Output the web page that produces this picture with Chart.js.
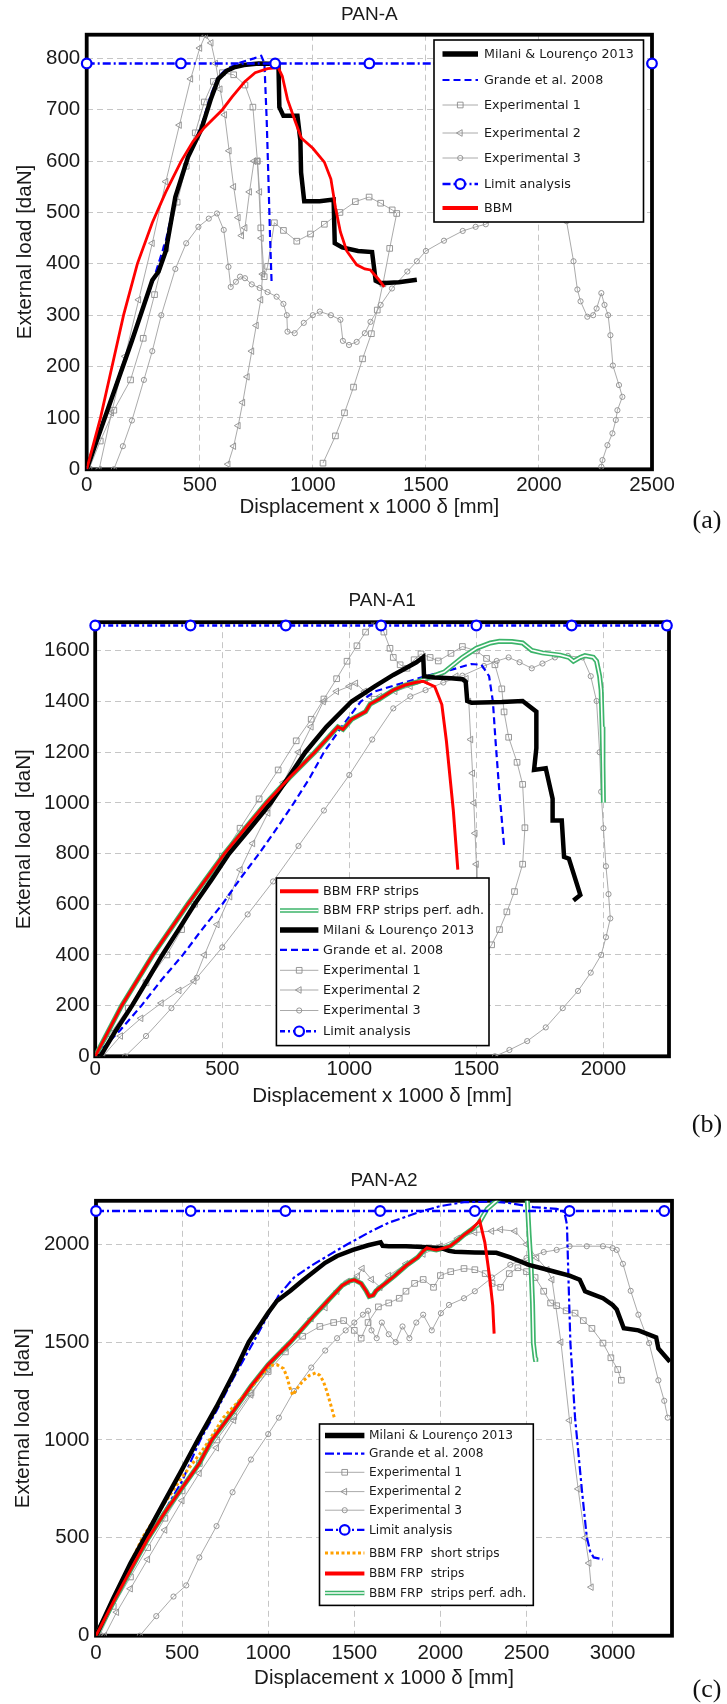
<!DOCTYPE html>
<html><head><meta charset="utf-8">
<script src="https://cdn.jsdelivr.net/npm/chart.js@4.4.0/dist/chart.umd.min.js"></script>
<style>
html,body{margin:0;padding:0;background:#fff;}
#wrap{position:relative;width:727px;height:1704px;overflow:hidden;background:#fff;}
canvas{position:absolute;left:0;}
.tag{position:absolute;width:44px;text-align:center;font-family:'Liberation Serif','Times New Roman',serif;font-size:26px;line-height:30px;color:#111;}
</style></head><body><div id="wrap">
<canvas id="c1" width="727" height="540" style="top:0px"></canvas>
<canvas id="c2" width="727" height="580" style="top:540px"></canvas>
<canvas id="c3" width="727" height="584" style="top:1120px"></canvas>
<div class="tag" style="left:685px;top:505px">(a)</div>
<div class="tag" style="left:685px;top:1109px">(b)</div>
<div class="tag" style="left:685px;top:1674px">(c)</div>
</div>
<script>
// ================= DATA : PAN-A =================
const panA_xTicks = [0, 500, 1000, 1500, 2000, 2500];
const panA_yTicks = [0, 100, 200, 300, 400, 500, 600, 700, 800];
const panA_milani = [[0,0],[100,125],[200,250],[290,368],[318,385],[350,425],[392,530],[448,608],[507,662],[550,722],[582,760],[620,776],[656,783],[695,787],[760,790],[848,789],[852,705],[870,688],[932,688],[945,640],[948,578],[962,522],[1030,522],[1092,525],[1097,440],[1130,432],[1200,425],[1262,423],[1278,367],[1300,362],[1380,364],[1460,369]];
const panA_grande = [[0,0],[100,128],[200,255],[290,362],[350,445],[392,528],[448,606],[507,668],[550,730],[582,764],[620,780],[680,792],[740,800],[772,805],[786,790],[796,680],[804,560],[811,450],[818,360]];
const panA_exp1 = [[10,0],[60,55],[120,115],[194,174],[250,255],[300,340],[350,430],[400,520],[440,590],[480,655],[520,715],[560,755],[600,772],[650,768],[700,748],[735,705],[755,600],[770,470],[785,375],[800,395],[830,480],[870,465],[929,444],[990,458],[1051,477],[1120,500],[1188,521],[1249,530],[1300,518],[1351,505],[1371,498],[1340,430],[1310,361],[1285,310],[1259,264],[1220,215],[1180,160],[1140,110],[1100,65],[1045,12]];
const panA_exp2 = [[55,0],[110,110],[170,220],[230,330],[290,440],[350,560],[410,670],[460,760],[500,820],[525,845],[550,830],[570,790],[590,740],[610,690],[630,620],[650,550],[670,490],[685,455],[700,470],[720,540],[740,600],[755,600],[765,540],[772,450],[778,380],[770,330],[750,280],[730,230],[710,180],[690,130],[670,85],[650,45],[625,10]];
const panA_exp3 = [[120,0],[160,45],[200,95],[253,174],[290,230],[330,300],[392,390],[440,440],[494,472],[540,488],[576,498],[606,466],[627,394],[637,355],[660,365],[678,375],[700,372],[730,360],[765,353],[800,345],[840,336],[870,322],[885,300],[888,268],[920,265],[960,285],[1000,300],[1031,307],[1080,300],[1122,291],[1133,250],[1160,242],[1194,248],[1230,265],[1255,287],[1300,320],[1350,352],[1418,385],[1460,405],[1500,425],[1580,445],[1663,464],[1720,472],[1765,477],[1830,498],[1900,518],[1980,535],[2040,530],[2090,510],[2122,483],[2153,405],[2170,350],[2184,327],[2214,297],[2240,300],[2255,313],[2276,343],[2290,320],[2306,300],[2316,261],[2327,202],[2354,164],[2369,141],[2347,115],[2340,96],[2325,70],[2303,47],[2281,18],[2276,5]];
const panA_limit = [[0,790],[416.7,790],[833.3,790],[1250,790],[1666.7,790],[2083.3,790],[2500,790]];
const panA_bbm = [[0,0],[61,100],[112,200],[163,300],[224,400],[290,480],[350,540],[418,600],[470,638],[520,665],[600,700],[643,725],[700,755],[745,772],[800,780],[847,782],[865,765],[888,720],[920,680],[949,645],[1000,625],[1051,598],[1080,565],[1100,510],[1122,462],[1150,425],[1194,398],[1230,390],[1255,388],[1290,370],[1316,355]];

// ================= DATA : PAN-A1 =================
const panA1_xTicks = [0, 500, 1000, 1500, 2000];
const panA1_yTicks = [0, 200, 400, 600, 800, 1000, 1200, 1400, 1600];
const panA1_bbm = [[0,0],[104,200],[227,400],[364,600],[509,800],[590,900],[673,1000],[765,1100],[864,1200],[955,1300],[975,1290],[1009,1330],[1064,1360],[1082,1390],[1118,1410],[1173,1445],[1220,1465],[1264,1476],[1290,1480],[1336,1459],[1364,1388],[1382,1245],[1409,973],[1427,737]];
const panA1_perf = [[0,0],[104,200],[227,400],[364,600],[509,800],[590,900],[673,1000],[765,1100],[864,1200],[955,1300],[975,1290],[1009,1330],[1064,1360],[1082,1390],[1118,1410],[1173,1445],[1220,1465],[1264,1476],[1300,1490],[1373,1516],[1445,1574],[1500,1610],[1555,1631],[1591,1638],[1640,1637],[1682,1631],[1718,1602],[1760,1592],[1791,1588],[1830,1583],[1864,1574],[1882,1559],[1910,1575],[1927,1581],[1960,1575],[1973,1559],[1985,1500],[1991,1445],[1995,1300],[1998,1150],[2000,1001]];
const panA1_milani = [[0,0],[20,0],[80,100],[145,200],[205,300],[264,400],[328,500],[391,600],[460,700],[527,800],[610,900],[691,1000],[760,1100],[827,1200],[910,1300],[1009,1400],[1100,1460],[1173,1505],[1220,1530],[1264,1555],[1291,1575],[1294,1500],[1336,1495],[1400,1492],[1445,1488],[1458,1478],[1464,1402],[1482,1395],[1600,1398],[1682,1402],[1736,1360],[1736,1216],[1727,1130],[1773,1137],[1800,1016],[1800,930],[1836,930],[1845,787],[1864,780],[1909,637],[1882,615]];
const panA1_grande = [[0,0],[100,105],[182,200],[260,300],[345,400],[420,500],[500,600],[570,700],[645,800],[715,900],[782,1000],[845,1100],[900,1200],[970,1300],[1045,1400],[1100,1440],[1200,1470],[1300,1500],[1400,1525],[1480,1548],[1520,1545],[1550,1500],[1565,1400],[1575,1250],[1590,1050],[1609,830]];
const panA1_exp1 = [[0,0],[60,90],[130,190],[200,290],[282,400],[340,500],[391,600],[450,700],[500,790],[570,900],[645,1016],[720,1130],[791,1245],[850,1330],[900,1410],[950,1490],[991,1559],[1030,1620],[1064,1674],[1100,1715],[1118,1731],[1136,1674],[1160,1610],[1173,1574],[1200,1545],[1227,1531],[1255,1565],[1282,1588],[1318,1574],[1350,1560],[1400,1590],[1445,1617],[1500,1600],[1540,1570],[1573,1545],[1600,1450],[1609,1359],[1627,1259],[1660,1160],[1682,1073],[1691,902],[1682,758],[1650,650],[1620,570],[1591,500],[1560,440],[1536,400],[1518,329]];
const panA1_exp2 = [[30,0],[100,80],[180,150],[260,210],[330,260],[389,297],[430,400],[480,520],[530,630],[571,736],[620,840],[680,960],[740,1080],[800,1200],[850,1300],[898,1400],[950,1440],[1000,1460],[1025,1472],[1060,1440],[1080,1420],[1120,1420],[1180,1440],[1240,1460],[1300,1480],[1360,1495],[1420,1500],[1460,1490],[1470,1400],[1478,1250],[1485,1117],[1490,1000],[1495,880],[1500,758],[1502,660]];
const panA1_exp3 = [[118,0],[200,80],[300,190],[400,310],[500,430],[600,560],[700,690],[800,830],[900,970],[1000,1110],[1090,1250],[1173,1373],[1240,1420],[1300,1445],[1370,1475],[1445,1502],[1530,1540],[1580,1560],[1627,1574],[1670,1555],[1718,1531],[1760,1550],[1809,1574],[1860,1580],[1918,1574],[1950,1500],[1973,1402],[1985,1200],[1991,1044],[2000,900],[2010,750],[2020,640],[2027,544],[2010,470],[1991,400],[1950,330],[1900,258],[1840,190],[1773,114],[1700,60],[1630,25],[1573,0]];
const panA1_limit = [[0,1700],[375,1700],[750,1700],[1125,1700],[1500,1700],[1875,1700],[2250,1700]];

// ================= DATA : PAN-A2 =================
const panA2_xTicks = [0, 500, 1000, 1500, 2000, 2500, 3000];
const panA2_yTicks = [0, 500, 1000, 1500, 2000];
const panA2_milani = [[0,0],[100,190],[200,370],[282,500],[400,690],[500,850],[591,1000],[700,1170],[800,1340],[887,1500],[1000,1650],[1050,1710],[1129,1762],[1200,1815],[1331,1905],[1400,1940],[1492,1971],[1580,1995],[1653,2010],[1665,1992],[1700,1990],[1800,1990],[1868,1987],[2003,1981],[2050,1966],[2083,1962],[2200,1958],[2325,1956],[2406,1933],[2513,1895],[2600,1875],[2675,1857],[2750,1840],[2809,1819],[2840,1760],[2863,1752],[2944,1724],[3000,1690],[3024,1667],[3065,1571],[3150,1560],[3253,1524],[3266,1467],[3333,1400]];
const panA2_grande = [[0,0],[100,165],[200,330],[309,500],[400,640],[500,790],[605,1000],[700,1150],[800,1320],[914,1500],[1000,1640],[1062,1740],[1150,1830],[1250,1890],[1331,1933],[1450,1995],[1599,2067],[1700,2110],[1868,2162],[2000,2195],[2137,2215],[2300,2218],[2406,2210],[2540,2190],[2675,2181],[2720,2165],[2735,2100],[2742,1876],[2755,1495],[2782,1114],[2823,733],[2850,505],[2870,430],[2890,400],[2944,390]];
const panA2_exp1 = [[20,0],[100,150],[200,300],[300,450],[400,600],[500,740],[600,880],[700,1000],[800,1120],[900,1240],[1000,1350],[1100,1450],[1200,1530],[1300,1580],[1380,1600],[1438,1610],[1500,1560],[1540,1520],[1580,1600],[1640,1680],[1700,1700],[1761,1724],[1800,1760],[1850,1800],[1900,1820],[1960,1780],[2000,1840],[2060,1860],[2137,1876],[2200,1870],[2260,1850],[2300,1800],[2350,1780],[2400,1850],[2450,1880],[2500,1860],[2550,1830],[2600,1760],[2640,1700],[2675,1686],[2730,1660],[2782,1648],[2830,1610],[2880,1570],[2944,1495],[2990,1420],[3030,1360],[3051,1305]];
const panA2_exp2 = [[50,0],[120,120],[200,240],[300,390],[400,540],[500,690],[600,830],[700,960],[800,1100],[900,1230],[1000,1360],[1100,1470],[1169,1540],[1250,1620],[1331,1676],[1400,1760],[1460,1810],[1519,1838],[1546,1876],[1600,1820],[1650,1780],[1700,1840],[1800,1900],[1900,1950],[2000,1990],[2100,2030],[2200,2060],[2298,2067],[2350,2075],[2433,2067],[2500,2000],[2560,1930],[2620,1870],[2648,1819],[2700,1500],[2750,1100],[2800,750],[2840,500],[2863,371],[2876,248]];
const panA2_exp3 = [[255,0],[350,100],[450,200],[524,257],[600,400],[700,560],[793,733],[900,900],[1000,1030],[1062,1114],[1150,1250],[1250,1370],[1331,1457],[1400,1520],[1450,1560],[1500,1600],[1550,1640],[1580,1660],[1600,1560],[1630,1520],[1660,1600],[1700,1540],[1740,1500],[1780,1580],[1820,1520],[1860,1600],[1900,1640],[1950,1560],[2003,1648],[2050,1690],[2137,1724],[2200,1760],[2300,1830],[2406,1895],[2500,1930],[2600,1960],[2675,1971],[2750,1990],[2850,1990],[2944,1990],[3000,1980],[3024,1971],[3060,1900],[3105,1762],[3150,1640],[3212,1495],[3266,1305],[3300,1200],[3320,1114]];
const panA2_limit = [[0,2170],[550,2170],[1100,2170],[1650,2170],[2200,2170],[2750,2170],[3300,2170]];
const panA2_short = [[0,0],[100,190],[200,370],[269,500],[400,680],[500,810],[600,925],[659,1000],[739,1114],[820,1190],[901,1267],[960,1330],[1008,1381],[1050,1385],[1089,1365],[1110,1320],[1125,1270],[1142,1229],[1170,1265],[1200,1300],[1240,1330],[1277,1343],[1300,1330],[1320,1300],[1340,1250],[1360,1190],[1384,1114]];
const panA2_bbm = [[0,0],[100,170],[200,335],[304,500],[400,630],[500,755],[600,880],[672,1000],[800,1150],[900,1275],[1000,1385],[1129,1500],[1250,1620],[1350,1715],[1430,1790],[1473,1812],[1500,1818],[1540,1800],[1570,1760],[1586,1733],[1610,1740],[1626,1762],[1680,1800],[1734,1838],[1800,1890],[1868,1933],[1900,1965],[1922,1981],[1950,1975],[1976,1971],[2020,1980],[2056,1990],[2100,2020],[2137,2048],[2180,2075],[2218,2110],[2228,2120],[2258,2010],[2285,1838],[2304,1686],[2312,1543]];
const panA2_perf = [[0,0],[100,170],[200,335],[304,500],[400,630],[500,755],[600,880],[672,1000],[800,1150],[900,1275],[1000,1385],[1129,1500],[1250,1620],[1350,1715],[1430,1790],[1473,1812],[1500,1818],[1540,1800],[1570,1760],[1586,1733],[1610,1740],[1626,1762],[1680,1800],[1734,1838],[1800,1890],[1868,1933],[1900,1965],[1922,1981],[1950,1975],[1976,1971],[2020,1980],[2056,1990],[2100,2020],[2137,2048],[2180,2075],[2218,2100],[2272,2181],[2330,2225],[2352,2240],[2420,2260],[2490,2260],[2505,2220],[2515,2050],[2527,1876],[2535,1700],[2540,1495],[2550,1420],[2554,1400]];

// ================= STYLES =================
const FONT = "'Liberation Sans', Arial, Helvetica, sans-serif";
const LFONT = "'DejaVu Sans', Verdana, sans-serif";
const TXT = '#1a1a1a';
const STY = {
  milani: {borderColor:'#000000', borderWidth:4.5, order:3, legendLW:5.5},
  grande: {borderColor:'#0000ff', borderWidth:2.2, borderDash:[7,4], order:6},
  limit:  {borderColor:'#0000ff', borderWidth:2.4, borderDash:[8,3,2,3], pointRadius:4.8, pointBorderWidth:2.2, pointBorderColor:'#0000ff', pointBackgroundColor:'#ffffff', pointStyle:'circle', order:1, clip:false},
  red:    {borderColor:'#ff0000', borderWidth:3, order:2, legendLW:4},
  green:  {borderColor:'#3cb46a', borderWidth:5, order:5, dbl:true, legendLW:4.5},
  greenIn:{borderColor:'#ffffff', borderWidth:1.6, order:4.9, noLegend:true},
  orange: {borderColor:'#ffa000', borderWidth:3, borderDash:[3,2.5], order:4.5},
  exp1:   {borderColor:'#a0a0a0', borderWidth:0.9, pointStyle:'rect', pointRadius:4, pointBorderColor:'#8c8c8c', pointBackgroundColor:'rgba(255,255,255,0)', pointBorderWidth:0.9, order:10},
  exp2:   {borderColor:'#a0a0a0', borderWidth:0.9, pointStyle:'triangle', pointRotation:-90, pointRadius:3.8, pointBorderColor:'#8c8c8c', pointBackgroundColor:'rgba(255,255,255,0)', pointBorderWidth:0.9, order:10},
  exp3:   {borderColor:'#a0a0a0', borderWidth:0.9, pointStyle:'circle', pointRadius:2.6, pointBorderColor:'#8c8c8c', pointBackgroundColor:'rgba(255,255,255,0)', pointBorderWidth:0.9, order:10}
};
function ds(kind, label, data, over) {
  return Object.assign({label, data, showLine:true, tension:0, pointRadius:0, pointHoverRadius:0, pointHitRadius:0, fill:false}, STY[kind], over || {});
}

function marker(ctx, d, x, y) {
  const r = d.pointRadius;
  ctx.beginPath();
  if (d.pointStyle === 'rect') { const s = r * Math.SQRT1_2; ctx.rect(x - s, y - s, 2 * s, 2 * s); }
  else if (d.pointStyle === 'triangle') { ctx.moveTo(x - r, y); ctx.lineTo(x + r * 0.5, y - r * 0.866); ctx.lineTo(x + r * 0.5, y + r * 0.866); ctx.closePath(); }
  else { ctx.arc(x, y, r, 0, Math.PI * 2); }
  ctx.fillStyle = d.pointBackgroundColor || 'rgba(0,0,0,0)'; ctx.fill();
  ctx.strokeStyle = d.pointBorderColor; ctx.lineWidth = d.pointBorderWidth; ctx.stroke();
}

function makeDecor(P, L) {
  return {
    id: 'decor',
    beforeDatasetsDraw(chart) {
      const {ctx, chartArea: a} = chart;
      ctx.save(); ctx.strokeStyle = '#000'; ctx.lineWidth = 3.8;
      ctx.strokeRect(a.left, a.top, a.right - a.left, a.bottom - a.top); ctx.restore();
    },
    afterDatasetsDraw(chart) {
      const ctx = chart.ctx;
      ctx.save();
      ctx.fillStyle = '#fff'; ctx.fillRect(L.box[0], L.box[1], L.box[2] - L.box[0], L.box[3] - L.box[1]);
      ctx.strokeStyle = '#000'; ctx.lineWidth = 1.6; ctx.strokeRect(L.box[0], L.box[1], L.box[2] - L.box[0], L.box[3] - L.box[1]);
      const dss = chart.data.datasets;
      L.items.forEach((lab, i) => {
        const d = dss.find(q => q.label === lab && !q.noLegend);
        const y = L.rows[i];
        ctx.save();
        ctx.strokeStyle = d.borderColor; ctx.lineWidth = d.legendLW || d.borderWidth;
        ctx.setLineDash(d.borderDash || []); ctx.lineCap = 'butt';
        ctx.beginPath(); ctx.moveTo(L.sx[0], y); ctx.lineTo(L.sx[1], y); ctx.stroke();
        if (d.dbl) { ctx.strokeStyle = '#ffffff'; ctx.lineWidth = 1.5; ctx.stroke(); }
        ctx.setLineDash([]);
        if (d.pointRadius > 0) marker(ctx, d, (L.sx[0] + L.sx[1]) / 2, y);
        ctx.restore();
        ctx.fillStyle = TXT; ctx.font = L.font; ctx.textBaseline = 'middle'; ctx.textAlign = 'left';
        ctx.fillText(lab, L.tx, y + 0.5);
      });
      ctx.restore();
    },
    afterDraw(chart) {
      const {ctx, chartArea: a} = chart;
      ctx.save(); ctx.fillStyle = TXT; ctx.font = '19px ' + FONT; ctx.textAlign = 'center'; ctx.textBaseline = 'middle';
      ctx.fillText(P.title, (a.left + a.right) / 2, P.titleY); ctx.restore();
    }
  };
}

function build(id, P, L, datasets, xTicks, yTicks) {
  return new Chart(document.getElementById(id), {
    type: 'scatter',
    data: {datasets},
    options: {
      responsive: false, animation: false, devicePixelRatio: 1,
      events: [],
      layout: {padding: {left: 0, top: P.top, right: 727 - P.right, bottom: P.H - P.bottom - P.xAxisH}},
      plugins: {legend: {display: false}, tooltip: {enabled: false}, title: {display: false}},
      scales: {
        x: {type: 'linear', position: 'bottom', min: 0, max: P.xMax,
            afterBuildTicks: s => { s.ticks = xTicks.map(v => ({value: v})); },
            afterFit: s => { s.height = P.xAxisH; },
            ticks: {padding: P.tickPadX, color: TXT, font: {family: FONT, size: 20.5}, maxRotation: 0, autoSkip: false, callback: v => String(v)},
            grid: {color: '#c6c6c6', lineWidth: 1, drawTicks: false},
            border: {display: false, dash: [6, 4]},
            title: {display: true, text: 'Displacement x 1000 δ [mm]', color: TXT, font: {family: FONT, size: 20.5}, padding: {top: 0, bottom: P.xTitlePad}}},
        y: {type: 'linear', position: 'left', min: 0, max: P.yMax,
            afterBuildTicks: s => { s.ticks = yTicks.map(v => ({value: v})); },
            afterFit: s => { s.width = P.left; },
            ticks: {padding: P.tickPadY, color: TXT, font: {family: FONT, size: 20.5}, autoSkip: false, callback: v => String(v)},
            grid: {color: '#c6c6c6', lineWidth: 1, drawTicks: false},
            border: {display: false, dash: [6, 4]},
            title: {display: true, text: P.yTitle, color: TXT, font: {family: FONT, size: 20.5}, padding: {top: P.yTitlePad, bottom: 0}}}
      }
    },
    plugins: [makeDecor(P, L)]
  });
}

// ================= PANEL (a) =================
build('c1',
  {H:540, left:86.7, right:652, top:34.7, bottom:469.3, xMax:2500, yMax:846, title:'PAN-A', titleY:15, tickPadX:4.1, tickPadY:6.5, yTitlePad:13, xAxisH:55, xTitlePad:4.3, yTitle:'External load [daN]'},
  {box:[434,40,643.5,222], rows:[54,80,105,133,158,184,208], sx:[442.5,478], tx:484, font:'12.7px ' + LFONT,
   items:['Milani & Lourenço 2013','Grande et al. 2008','Experimental 1','Experimental 2','Experimental 3','Limit analysis','BBM']},
  [
    ds('milani','Milani & Lourenço 2013', panA_milani),
    ds('grande','Grande et al. 2008', panA_grande),
    ds('exp1','Experimental 1', panA_exp1),
    ds('exp2','Experimental 2', panA_exp2),
    ds('exp3','Experimental 3', panA_exp3),
    ds('limit','Limit analysis', panA_limit),
    ds('red','BBM', panA_bbm, {borderWidth:2.8})
  ], panA_xTicks, panA_yTicks);

// ================= PANEL (b) =================
build('c2',
  {H:580, left:95.2, right:669, top:82.2, bottom:516.3, xMax:2258, yMax:1713, title:'PAN-A1', titleY:60.7, tickPadX:1.1, tickPadY:5.5, yTitlePad:12.2, xAxisH:55, xTitlePad:3.1, yTitle:'External load  [daN]'},
  {box:[276.4,338,489,505.6], rows:[351.3,370.4,390.1,409.8,430.3,450,470.5,491.3], sx:[280,318.4], tx:323, font:'12.8px ' + LFONT,
   items:['BBM FRP strips','BBM FRP strips perf. adh.','Milani & Lourenço 2013','Grande et al. 2008','Experimental 1','Experimental 2','Experimental 3','Limit analysis']},
  [
    ds('red','BBM FRP strips', panA1_bbm),
    ds('green','BBM FRP strips perf. adh.', panA1_perf),
    ds('greenIn','', panA1_perf),
    ds('milani','Milani & Lourenço 2013', panA1_milani),
    ds('grande','Grande et al. 2008', panA1_grande),
    ds('exp1','Experimental 1', panA1_exp1),
    ds('exp2','Experimental 2', panA1_exp2),
    ds('exp3','Experimental 3', panA1_exp3),
    ds('limit','Limit analysis', panA1_limit, {borderDash:[5,3,2,3]})
  ], panA1_xTicks, panA1_yTicks);

// ================= PANEL (c) =================
build('c3',
  {H:584, left:96, right:672, top:80.8, bottom:515.7, xMax:3345, yMax:2222, title:'PAN-A2', titleY:60.5, tickPadX:5.3, tickPadY:6.5, yTitlePad:10.7, xAxisH:60, xTitlePad:4.8, yTitle:'External load  [daN]'},
  {box:[319.5,304,533.3,485.4], rows:[315.5,333.7,352.3,371.6,390.2,409.9,433,453.4,473.1], sx:[325,364.4], tx:369, font:'12.2px ' + LFONT,
   items:['Milani & Lourenço 2013','Grande et al. 2008','Experimental 1','Experimental 2','Experimental 3','Limit analysis','BBM FRP  short strips','BBM FRP  strips','BBM FRP  strips perf. adh.']},
  [
    ds('milani','Milani & Lourenço 2013', panA2_milani),
    ds('grande','Grande et al. 2008', panA2_grande, {borderDash:[9,3,3,3]}),
    ds('exp1','Experimental 1', panA2_exp1),
    ds('exp2','Experimental 2', panA2_exp2),
    ds('exp3','Experimental 3', panA2_exp3),
    ds('limit','Limit analysis', panA2_limit),
    ds('orange','BBM FRP  short strips', panA2_short),
    ds('red','BBM FRP  strips', panA2_bbm),
    ds('green','BBM FRP  strips perf. adh.', panA2_perf),
    ds('greenIn','', panA2_perf)
  ], panA2_xTicks, panA2_yTicks);
</script>
</body></html>
